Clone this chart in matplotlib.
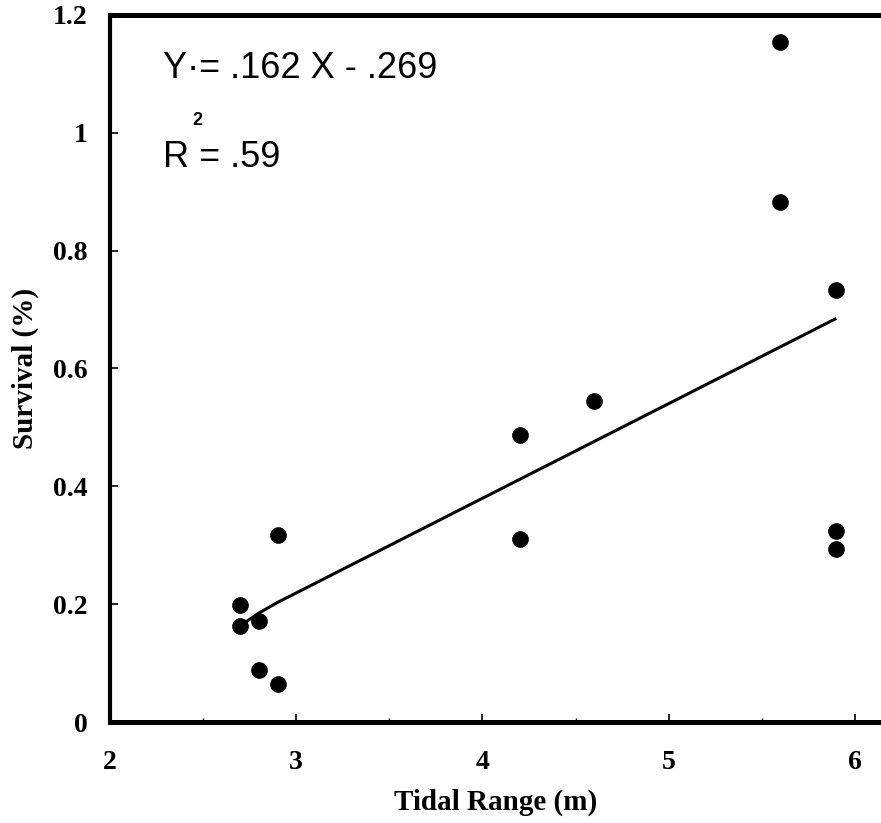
import numpy as np
import matplotlib
matplotlib.use('Agg')
from matplotlib import pyplot as plt
from matplotlib.ticker import MultipleLocator, FixedLocator, FixedFormatter

# survival vs tidal range
tidal_range = [2.7, 2.7, 2.8, 2.8, 2.9, 2.9, 4.2, 4.2, 4.6, 5.6, 5.6, 5.9, 5.9, 5.9]
survival = [0.199, 0.163, 0.172, 0.089, 0.065, 0.317, 0.487, 0.311, 0.545,
            1.154, 0.882, 0.734, 0.325, 0.294]

# regression line as drawn
fit_x = [2.73, 2.8, 2.9, 5.9]
fit_y = [0.170, 0.185, 0.203, 0.685]

y_ticks = [0, 0.2, 0.4, 0.6, 0.8, 1.0, 1.2]
y_labels = ['0', '0.2', '0.4', '0.6', '0.8', '1', '1.2']
x_ticks = [2, 3, 4, 5, 6]
x_labels = ['2', '3', '4', '5', '6']

serif = 'Liberation Serif'

fig = plt.figure(figsize=(8.81, 8.23), dpi=100)
ax = fig.add_axes([110/881, 101/823, 1 - 110/881, 707/823])

ax.plot(fit_x, fit_y, color='black', lw=2.2, solid_capstyle='butt')
ax.plot(tidal_range, survival, linestyle='None', marker='o', color='black', markersize=11)

ax.set_xlim(2, 6.14)
ax.set_ylim(0, 1.2)

ax.xaxis.set_major_locator(FixedLocator(x_ticks))
ax.xaxis.set_major_formatter(FixedFormatter(x_labels))
ax.xaxis.set_minor_locator(MultipleLocator(0.5))
ax.yaxis.set_major_locator(FixedLocator(y_ticks))
ax.yaxis.set_major_formatter(FixedFormatter(y_labels))
ax.tick_params(axis='both', which='major', direction='in', length=6, width=1.2, color='black')
ax.tick_params(axis='x', which='minor', direction='in', length=3, width=1)
ax.tick_params(axis='x', pad=20)
ax.tick_params(axis='y', pad=16)

for lab in ax.get_xticklabels() + ax.get_yticklabels():
    lab.set_fontfamily(serif)
    lab.set_fontweight('bold')
    lab.set_fontsize(20)

ax.spines['right'].set_visible(False)
ax.spines['left'].set_linewidth(3.0)
ax.spines['bottom'].set_linewidth(3.6)
ax.spines['top'].set_linewidth(3.6)

ax.set_xlabel('Tidal Range (m)', fontfamily=serif, fontweight='bold', fontsize=21, labelpad=10)
ax.set_ylabel('Survival (%)', fontfamily=serif, fontweight='bold', fontsize=21, labelpad=10)

ax.text(2.285, 1.11, 'Y\u00b7= .162 X - .269', fontfamily='Liberation Sans', fontsize=26,
        va='center', ha='left')
ax.text(2.285, 0.958, 'R = .59', fontfamily='Liberation Sans', fontsize=26,
        va='center', ha='left')
ax.text(2.467, 1.021, '2', fontfamily='Liberation Sans', fontsize=13, fontweight='bold',
        va='center', ha='center')

plt.savefig('out.png', dpi=100)
